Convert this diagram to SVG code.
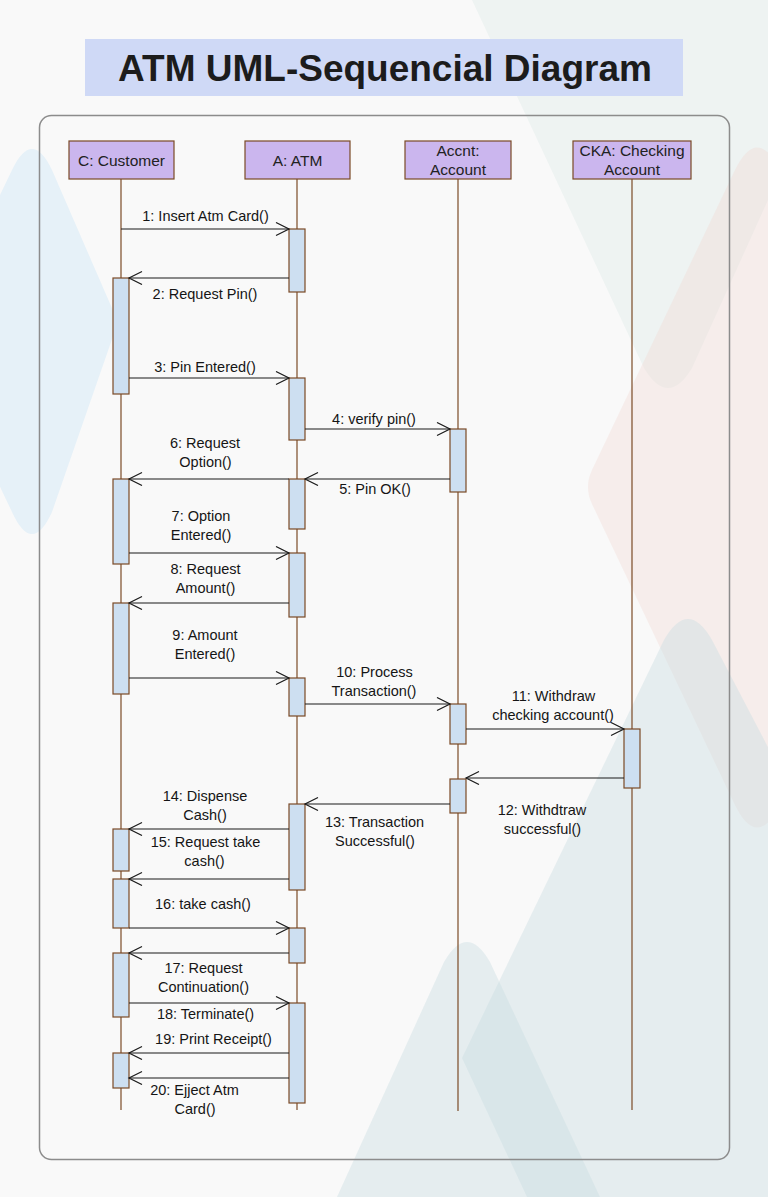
<svg xmlns="http://www.w3.org/2000/svg" width="768" height="1197" viewBox="0 0 768 1197">
<style>
.hdr{fill:#cbb6ee;stroke:#7b4a26;stroke-width:1.2}
.life{stroke:#7b4a26;stroke-width:1.2;fill:none}
.bar{fill:#cddff1;stroke:#7b4a26;stroke-width:1.2}
.htxt{font-family:"Liberation Sans",Arial,sans-serif;font-size:15.5px;fill:#222;text-anchor:middle}
.lbl{font-family:"Liberation Sans",Arial,sans-serif;font-size:14.5px;fill:#151515;text-anchor:middle}
.msg{stroke:#1a1a1a;stroke-width:1.2;fill:none;marker-end:url(#arr)}
</style>
<defs>
<marker id="arr" markerUnits="userSpaceOnUse" markerWidth="16" markerHeight="16" refX="14" refY="7" orient="auto">
<path d="M1,0.5 L14,7 L1,13.5" fill="none" stroke="#1a1a1a" stroke-width="1.2"/>
</marker>
</defs>
<g id="background">
<rect x="0" y="0" width="768" height="1197" fill="#f9f9f9"/>
<path d="M472,0 L768,0 L768,200 L692,368 Q668,408 644,368 Z" fill="#eef3f2"/>
<path d="M592,470 Q584,487 592,504 L735,805 Q757,850 780,805 L800,500 L780,170 Q757,125 735,170 Z" fill="#f0d8d0" opacity="0.35"/>
<path d="M-70,340 L12,170 Q32,128 52,170 L118,322 L52,512 Q32,556 12,512 Z" fill="#e6f1f8"/>
<path d="M664,640 Q688,598 712,640 L900,1000 L900,1197 L527,1197 L462,1058 Z" fill="#c7dbe2" opacity="0.4"/>
<path d="M444,962 Q467,922 490,962 L600,1197 L337,1197 Z" fill="#c7dbe2" opacity="0.4"/>
</g>
<g id="title">
<rect x="85" y="39" width="598" height="57" fill="#cfd9f6"/>
<text x="385" y="81" font-family="'Liberation Sans',Arial,sans-serif" font-size="37" font-weight="bold" fill="#1c1c1c" text-anchor="middle">ATM UML-Sequencial Diagram</text>
</g>
<g id="frame">
<rect x="39.5" y="115.5" width="690" height="1044" rx="12" fill="none" stroke="#8c8c8c" stroke-width="1.5"/>
</g>
<g id="customer">
<line class="life" x1="121" y1="179" x2="121" y2="1110"/>
<rect class="hdr" x="69" y="141" width="105" height="38"/>
<text class="htxt" x="121.5" y="165.5">C: Customer</text>
<rect class="bar" x="113" y="278" width="16" height="116"/>
<rect class="bar" x="113" y="479" width="16" height="85"/>
<rect class="bar" x="113" y="603" width="16" height="91"/>
<rect class="bar" x="113" y="829" width="16" height="42"/>
<rect class="bar" x="113" y="879" width="16" height="49"/>
<rect class="bar" x="113" y="953" width="16" height="64"/>
<rect class="bar" x="113" y="1053" width="16" height="35"/>
</g>
<g id="atm">
<line class="life" x1="297" y1="179" x2="297" y2="1110"/>
<rect class="hdr" x="245" y="141" width="105" height="38"/>
<text class="htxt" x="297.5" y="165.5">A: ATM</text>
<rect class="bar" x="289" y="229" width="16" height="63"/>
<rect class="bar" x="289" y="378" width="16" height="62"/>
<rect class="bar" x="289" y="479" width="16" height="50"/>
<rect class="bar" x="289" y="553" width="16" height="64"/>
<rect class="bar" x="289" y="678" width="16" height="38"/>
<rect class="bar" x="289" y="804" width="16" height="86"/>
<rect class="bar" x="289" y="928" width="16" height="35"/>
<rect class="bar" x="289" y="1003" width="16" height="100"/>
</g>
<g id="account">
<line class="life" x1="458" y1="179" x2="458" y2="1111"/>
<rect class="hdr" x="405" y="141" width="106" height="38"/>
<text class="htxt" x="458" y="156">Accnt:</text>
<text class="htxt" x="458" y="175">Account</text>
<rect class="bar" x="450" y="429" width="16" height="63"/>
<rect class="bar" x="450" y="704" width="16" height="40"/>
<rect class="bar" x="450" y="779" width="16" height="34"/>
</g>
<g id="checking">
<line class="life" x1="632" y1="179" x2="632" y2="1110"/>
<rect class="hdr" x="573" y="141" width="118" height="38"/>
<text class="htxt" x="632" y="156">CKA: Checking</text>
<text class="htxt" x="632" y="175">Account</text>
<rect class="bar" x="624" y="729" width="16" height="59"/>
</g>
<g id="connectors">
<g id="m1"><line class="msg" x1="121" y1="229" x2="289" y2="229"/><text class="lbl" x="205.5" y="221">1: Insert Atm Card()</text></g>
<g id="m2"><line class="msg" x1="289" y1="278" x2="129" y2="278"/><text class="lbl" x="205" y="299">2: Request Pin()</text></g>
<g id="m3"><line class="msg" x1="129" y1="378" x2="289" y2="378"/><text class="lbl" x="205" y="372">3: Pin Entered()</text></g>
<g id="m4"><line class="msg" x1="305" y1="429" x2="450" y2="429"/><text class="lbl" x="374" y="424">4: verify pin()</text></g>
<g id="m5"><line class="msg" x1="450" y1="479" x2="305" y2="479"/><text class="lbl" x="375" y="494">5: Pin OK()</text></g>
<g id="m6"><line class="msg" x1="289" y1="479" x2="129" y2="479"/><text class="lbl" x="205" y="448">6: Request</text><text class="lbl" x="205.5" y="467">Option()</text></g>
<g id="m7"><line class="msg" x1="129" y1="553" x2="289" y2="553"/><text class="lbl" x="201" y="521">7: Option</text><text class="lbl" x="201" y="540">Entered()</text></g>
<g id="m8"><line class="msg" x1="289" y1="603" x2="129" y2="603"/><text class="lbl" x="205.5" y="573.5">8: Request</text><text class="lbl" x="205.5" y="592.5">Amount()</text></g>
<g id="m9"><line class="msg" x1="129" y1="678" x2="289" y2="678"/><text class="lbl" x="205" y="640">9: Amount</text><text class="lbl" x="205" y="659">Entered()</text></g>
<g id="m10"><line class="msg" x1="305" y1="704" x2="450" y2="704"/><text class="lbl" x="374.5" y="677">10: Process</text><text class="lbl" x="374" y="696">Transaction()</text></g>
<g id="m11"><line class="msg" x1="466" y1="729" x2="624" y2="729"/><text class="lbl" x="553.5" y="701">11: Withdraw</text><text class="lbl" x="553" y="720">checking account()</text></g>
<g id="m12"><line class="msg" x1="624" y1="778" x2="466" y2="778"/><text class="lbl" x="542" y="815">12: Withdtraw</text><text class="lbl" x="542.5" y="834">successful()</text></g>
<g id="m13"><line class="msg" x1="450" y1="804" x2="305" y2="804"/><text class="lbl" x="374.5" y="827">13: Transaction</text><text class="lbl" x="375" y="846">Successful()</text></g>
<g id="m14"><line class="msg" x1="289" y1="829" x2="129" y2="829"/><text class="lbl" x="205" y="801">14: Dispense</text><text class="lbl" x="205" y="820">Cash()</text></g>
<g id="m15"><line class="msg" x1="289" y1="879" x2="129" y2="879"/><text class="lbl" x="205.5" y="847">15: Request take</text><text class="lbl" x="204.5" y="866">cash()</text></g>
<g id="m16"><line class="msg" x1="129" y1="928" x2="289" y2="928"/><text class="lbl" x="203" y="908.5">16: take cash()</text></g>
<g id="m17"><line class="msg" x1="289" y1="953" x2="129" y2="953"/><text class="lbl" x="203.5" y="973">17: Request</text><text class="lbl" x="203.5" y="992">Continuation()</text></g>
<g id="m18"><line class="msg" x1="129" y1="1003" x2="289" y2="1003"/><text class="lbl" x="205.5" y="1018.5">18: Terminate()</text></g>
<g id="m19"><line class="msg" x1="289" y1="1053" x2="129" y2="1053"/><text class="lbl" x="213.5" y="1043.5">19: Print Receipt()</text></g>
<g id="m20"><line class="msg" x1="289" y1="1078" x2="129" y2="1078"/><text class="lbl" x="194.5" y="1095">20: Ejject Atm</text><text class="lbl" x="195" y="1114">Card()</text></g>
</g>
</svg>
